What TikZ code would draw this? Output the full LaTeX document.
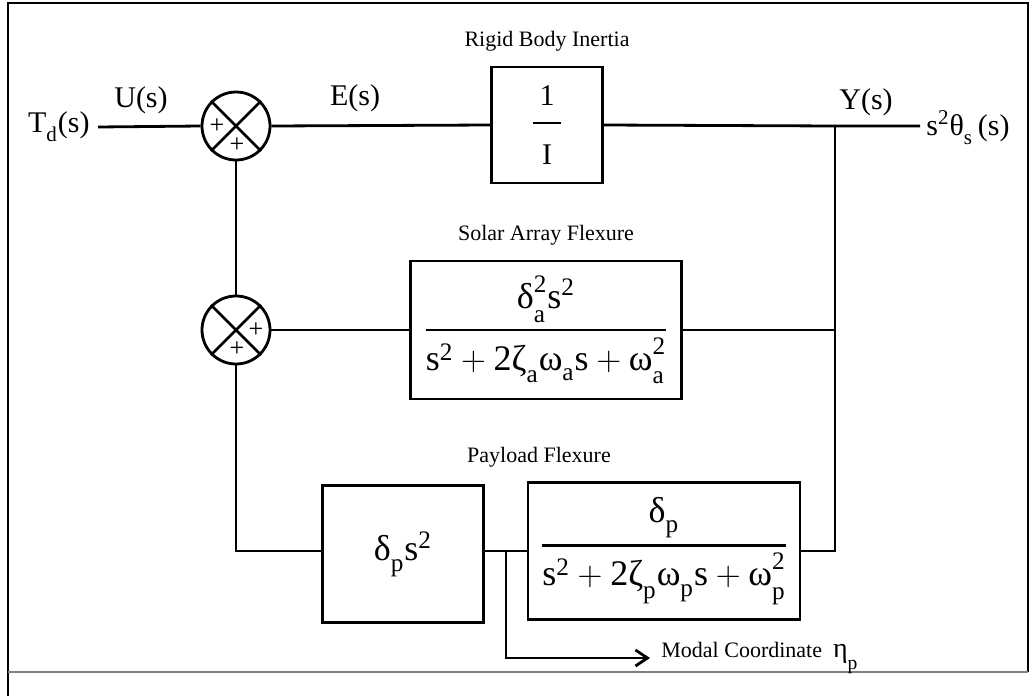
\documentclass[tikz,border=0pt]{standalone}
\usepackage{amsmath}
\usepackage{fontspec}
\setmainfont{Liberation Serif}
\usetikzlibrary{arrows.meta, positioning, calc}

\newcommand{\tx}[1]{\text{#1}}
\newcommand{\lo}[1]{\text{\raisebox{-2.5pt}{#1}}}
\newcommand{\hi}[1]{\text{\raisebox{3pt}{#1}}}
\newcommand{\tfr}[2]{\genfrac{}{}{1.1pt}{0}{#1}{#2}}

\begin{document}
\begin{tikzpicture}[
    x=0.5pt, y=-0.5pt,
    every node/.style={font=\fontsize{11}{13}\selectfont, inner sep=0pt},
    block/.style={rectangle, draw, line width=1.4pt, align=center, font=\fontsize{18}{22}\selectfont},
    sumjunc/.style={circle, draw, line width=1.4pt, minimum size=34pt},
    sig/.style={font=\fontsize{15}{18}\selectfont, inner xsep=4pt},
    plus/.style={font=\fontsize{13}{13}\selectfont},
    wire/.style={line width=1.4pt},
    arrow/.style={wire, -{Straight Barb[length=6pt, width=8pt, line width=1.4pt]}},
    frame/.style={line width=1pt}
]
    \useasboundingbox (0,0) rectangle (1032,696);
    % frame
    \draw[frame] (8,696) -- (8,3) -- (1028,3) -- (1028,672);
    \draw[frame, gray] (8,672) -- (1028,672);

    % summing junctions
    \node[sumjunc] (sumA) at (236,126) {};
    \node[sumjunc] (sumB) at (236,330) {};
    \draw[wire] (sumA.north west) -- (sumA.south east);
    \draw[wire] (sumA.north east) -- (sumA.south west);
    \draw[wire] (sumB.north west) -- (sumB.south east);
    \draw[wire] (sumB.north east) -- (sumB.south west);
    \node[plus] (pA1) at ($(sumA.center)+(-19,0)$) {+};
    \node[plus] (pA2) at ($(sumA.center)+(1,19)$) {+};
    \node[plus] (pB1) at ($(sumB.center)+(20,0)$) {+};
    \node[plus] (pB2) at ($(sumB.center)+(1,19)$) {+};

    % blocks
    \node[block, minimum width=55.5pt, minimum height=58pt, font=\fontsize{15}{17}\selectfont] (inertia) at (547,125)
        {$\tfr{\makebox[14pt]{\tx{1}}\rule[-5pt]{0pt}{0pt}}{\rule{0pt}{17pt}\tx{I}}$};
    \node[block, minimum width=135.5pt, minimum height=69pt] (solar) at (546,330)
        {$\tfr{\tx{δ}_{\lo{a}}^{\tx{2}}\tx{s}^{\tx{2}}}{\tx{s}^{\tx{2}}+\tx{2ζ}_{\lo{a}}\tx{ω}_{\lo{a}}\tx{s}+\tx{ω}_{\lo{a}}^{\hi{2}}}$};
    \node[block, minimum width=80.5pt, minimum height=68.5pt] (gainp) at (403,554) {\raisebox{6pt}{$\tx{δ}_{\lo{p}}\tx{s}^{\tx{2}}$}};
    \node[block, minimum width=136pt, minimum height=68.5pt] (modal) at (664,551)
        {$\tfr{\tx{δ}_{\lo{p}}}{\tx{s}^{\tx{2}}+\tx{2ζ}_{\lo{p}}\tx{ω}_{\lo{p}}\tx{s}+\tx{ω}_{\lo{p}}^{\hi{2}}}$};

    % block labels
    \node[above=7pt of inertia] (rbi) {Rigid Body Inertia};
    \node[above=7pt of solar] (saf) {Solar Array Flexure};
    \node (plf) at (539,457) {Payload Flexure};

    % signals
    \node[sig, anchor=east] (td) at (98,127) {$\tx{T}_{\lo{d}}\tx{(s)}$};
    \node[sig] (us) at (141,100) {U(s)};
    \node[sig] (es) at (355,98) {E(s)};
    \node[sig] (ys) at (866,102) {Y(s)};
    \node[sig, anchor=west, inner xsep=3pt] (out) at (920,128) {$\tx{s}^{\tx{2}}\tx{θ}_{\lo{s}}\,\tx{(s)}$};
    \node[anchor=west, inner xsep=5.5pt] (eta) at (650,658) {Modal Coordinate\ \ {\fontsize{14}{14}\selectfont$\tx{η}_{\lo{p}}$}};

    \coordinate (yj) at (835,126);
    \coordinate (tap) at (506,551);

    % connections
    \draw[wire] (td.east) -- (sumA.west);
    \draw[wire] (sumA.east) -- (inertia.west);
    \draw[wire] (inertia.east) -- (yj) -- (out.west |- yj);
    \draw[wire] (sumA.south) -- (sumB.north);
    \draw[wire] (sumB.east) -- (solar.west);
    \draw[wire] (solar.east) -- (solar.east -| yj);
    \draw[wire] (sumB.south) |- (gainp.west |- tap);
    \draw[wire] (gainp.east |- tap) -- (modal.west);
    \draw[wire] (modal.east) -| (yj);
    \draw[arrow] (tap) |- (eta.west);
\end{tikzpicture}
\end{document}
